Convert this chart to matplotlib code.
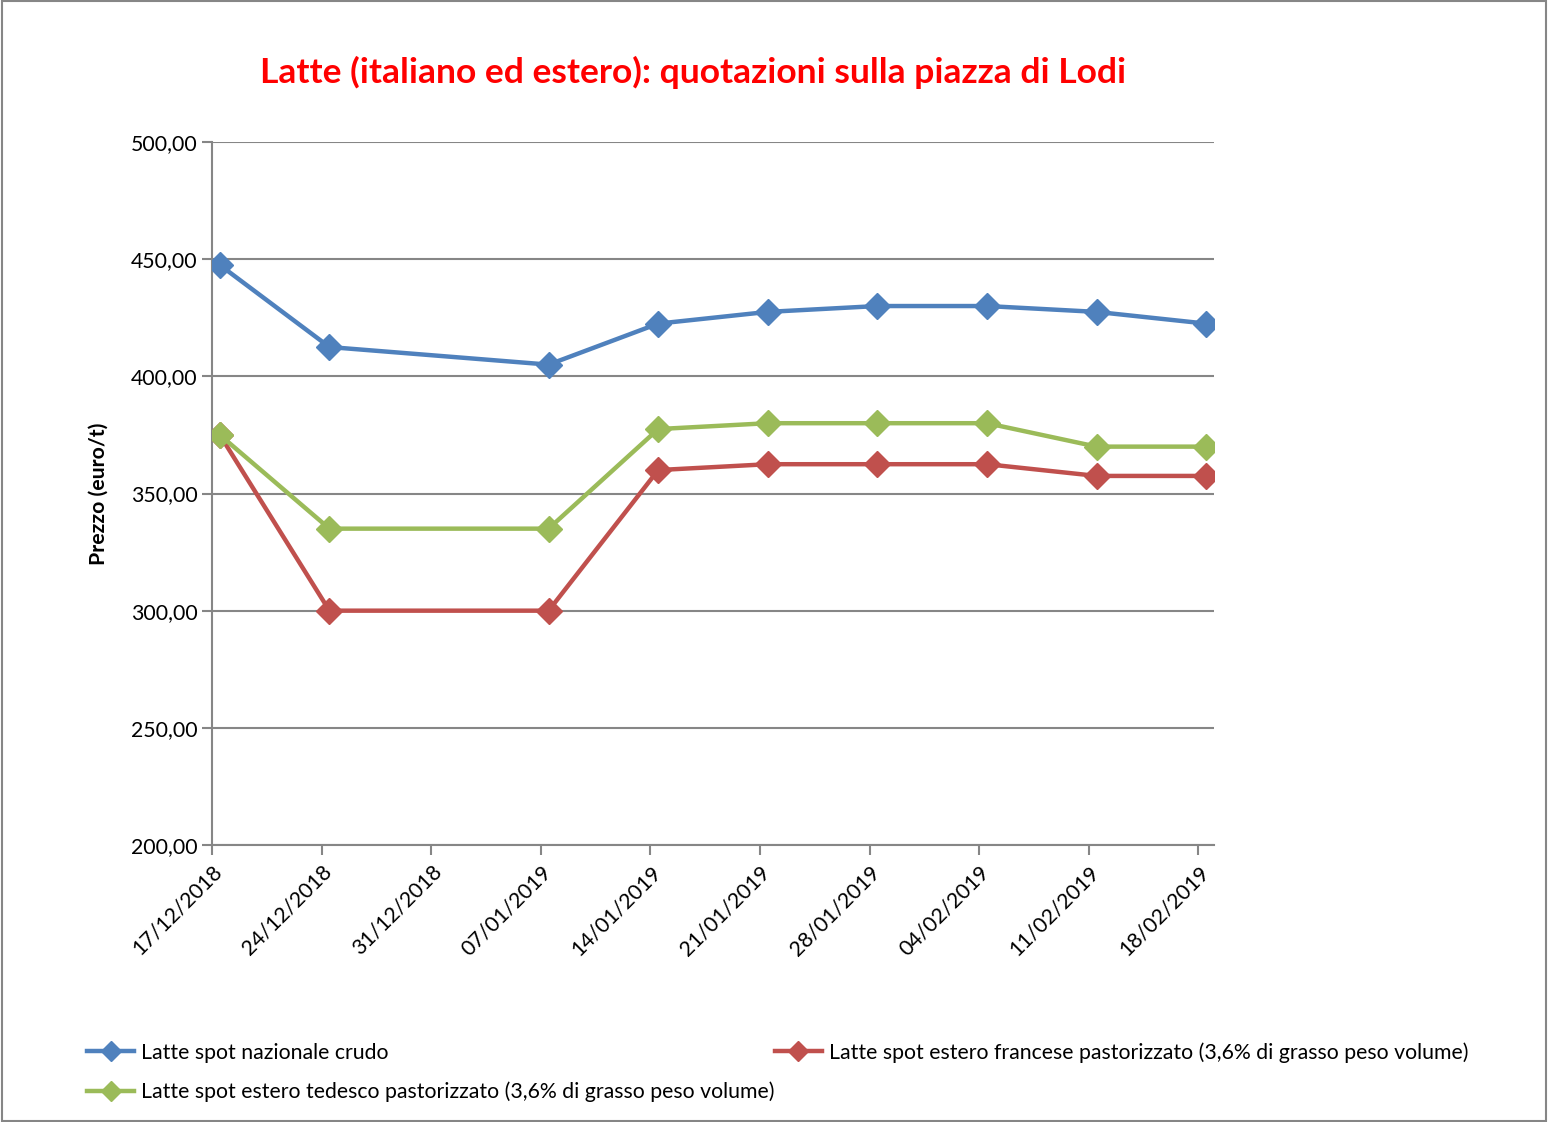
import matplotlib
matplotlib.use("Agg")
import matplotlib.pyplot as plt
from matplotlib.patches import Rectangle
from matplotlib.ticker import FuncFormatter

plt.rcParams.update({
    "font.family": ["Lato", "DejaVu Sans"],
})

# ------------------ DATA ------------------ #
tick_labels = ["17/12/2018", "24/12/2018", "31/12/2018", "07/01/2019", "14/01/2019",
               "21/01/2019", "28/01/2019", "04/02/2019", "11/02/2019", "18/02/2019"]
tick_days = [0, 7, 14, 21, 28, 35, 42, 49, 56, 63]

# days since 17/12/2018 (31/12/2018 has no quotation)
obs_days = [0, 7, 21, 28, 35, 42, 49, 56, 63]

nazionale = [447.5, 412.5, 405.0, 422.5, 427.5, 430.0, 430.0, 427.5, 422.5]
francese = [375.0, 300.0, 300.0, 360.0, 362.5, 362.5, 362.5, 357.5, 357.5]
tedesco = [375.0, 335.0, 335.0, 377.5, 380.0, 380.0, 380.0, 370.0, 370.0]

names = ["Latte spot nazionale crudo",
         "Latte spot estero francese pastorizzato (3,6% di grasso peso volume)",
         "Latte spot estero tedesco pastorizzato (3,6% di grasso peso volume)"]

COLORS = {"blu": "#4F81BD", "rosso": "#C0504D", "verde": "#9BBB59"}
GRID = "#868686"
FS = 15.3

# ------------------ FIGURE ------------------ #
fig = plt.figure(figsize=(15.48, 11.22), dpi=100)
ax = fig.add_axes([212 / 1548, 1 - 845 / 1122, (1214 - 212) / 1548, (845 - 142) / 1122])

# points sit in the middle of their day, like an Excel date axis
x = [d + 0.5 for d in obs_days]
series = [(nazionale, COLORS["blu"]), (francese, COLORS["rosso"]), (tedesco, COLORS["verde"])]
handles = []
for (vals, col), name in zip(series, names):
    h, = ax.plot(x, vals, color=col, lw=3.2, marker="D", markersize=13,
                 markeredgecolor=col, markerfacecolor=col, label=name, zorder=3)
    handles.append(h)

ax.set_xlim(0, 64)
ax.set_ylim(200, 500)
ax.set_yticks([200, 250, 300, 350, 400, 450, 500])
ax.yaxis.set_major_formatter(FuncFormatter(lambda v, p: f"{v:.2f}".replace(".", ",")))
ax.set_xticks(tick_days)
ax.set_xticklabels(tick_labels, rotation=45, ha="right", va="top",
                   rotation_mode="anchor")

ax.grid(axis="y", color=GRID, lw=1.5)
ax.set_axisbelow(True)
for side in ["top", "right"]:
    ax.spines[side].set_visible(False)
for side in ["left", "bottom"]:
    ax.spines[side].set_color(GRID)
    ax.spines[side].set_linewidth(1.5)
ax.tick_params(axis="both", colors=GRID, width=1.5, length=7, labelsize=FS,
               labelcolor="black")
ax.tick_params(axis="x", pad=5)

ax.set_ylabel("Prezzo (euro/t)", fontsize=FS, fontweight="bold", labelpad=16)

fig.text(693 / 1548, 1 - 72 / 1122, "Latte (italiano ed estero): quotazioni sulla piazza di Lodi",
         color="red", fontsize=25.5, fontweight="bold", ha="center", va="center")

# legend: blue + green in first column, red in second
fig.legend([handles[0], handles[2], handles[1]], [names[0], names[2], names[1]],
           ncol=2, loc="upper left", bbox_to_anchor=(68 / 1548, 1 - 1023 / 1122),
           frameon=False, fontsize=FS, handlelength=2.2, handletextpad=0.35,
           columnspacing=0.0, labelspacing=0.9, markerscale=0.75)

# outer border of the chart area
fig.patches.append(Rectangle((0.001, 0.001), 0.998, 0.998, transform=fig.transFigure,
                             fill=False, edgecolor=GRID, lw=1.5))

fig.savefig("out.png", dpi=100)
